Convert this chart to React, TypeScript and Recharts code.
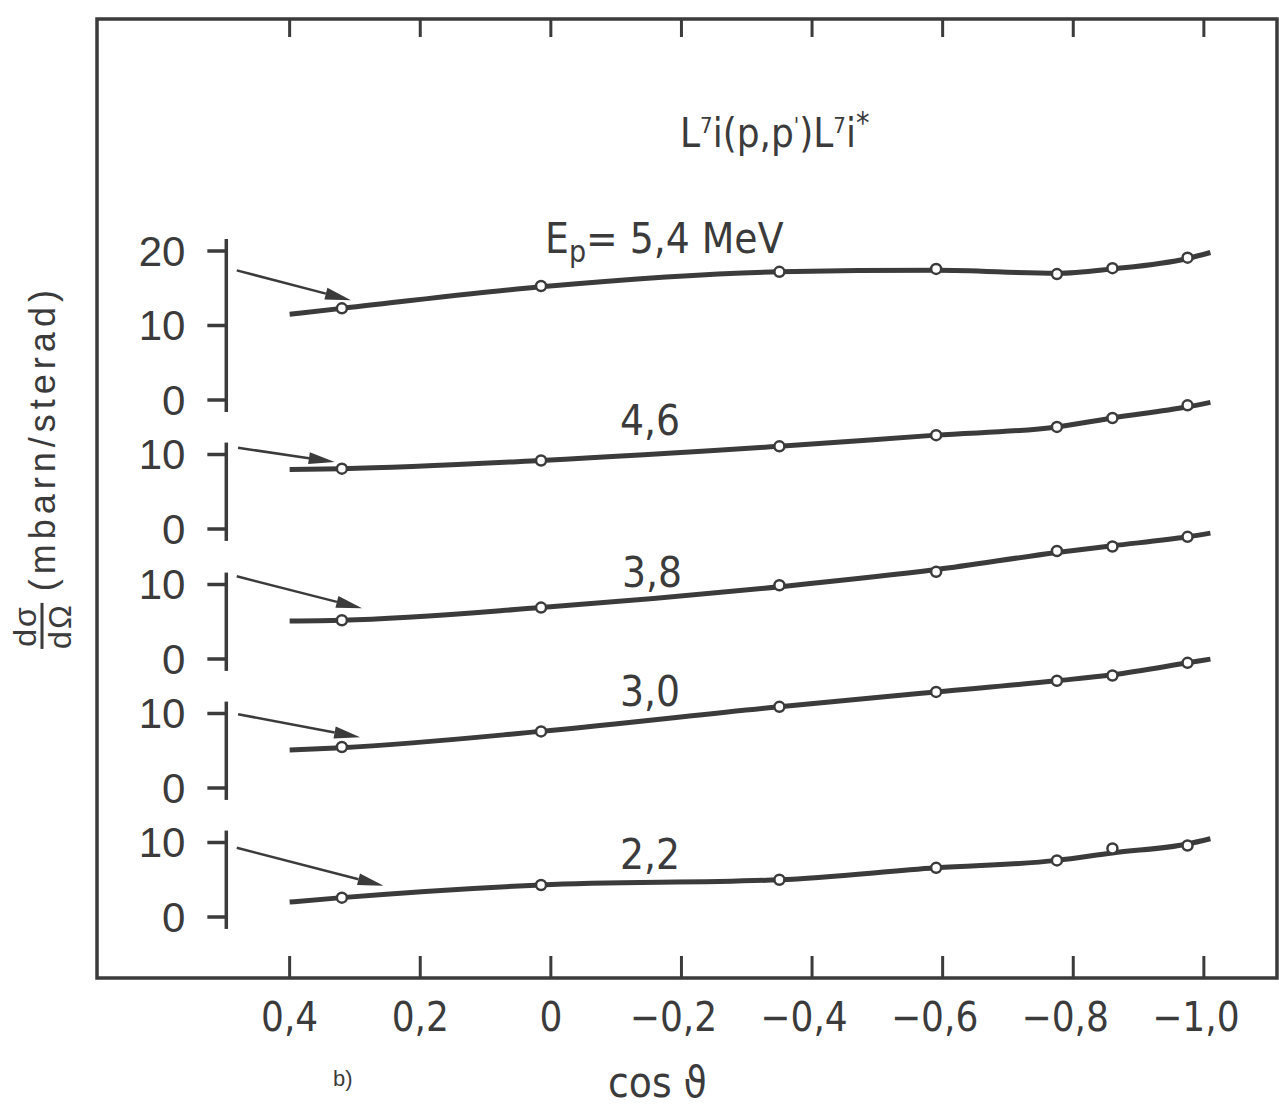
import {
  ComposedChart,
  Line,
  ReferenceArea,
  ReferenceLine,
  Scatter,
  XAxis,
  YAxis,
} from "recharts";

// cos(theta) positions
const X_TICKS = [0.4, 0.2, 0, -0.2, -0.4, -0.6, -0.8, -1.0];
const CURVE_COS = [0.4, 0.32, 0.015, -0.35, -0.59, -0.775, -0.86, -0.975, -1.01];
const POINT_COS = [0.32, 0.015, -0.35, -0.59, -0.775, -0.86, -0.975];

// beam energies (MeV), top to bottom
const ENERGIES = ["5,4", "4,6", "3,8", "3,0", "2,2"];

// dσ/dΩ (mbarn/sterad) measured points
const POINTS_54 = [12.3, 15.3, 17.2, 17.6, 16.9, 17.7, 19.1];
const POINTS_46 = [8.1, 9.2, 11.1, 12.6, 13.7, 14.9, 16.6];
const POINTS_38 = [5.2, 6.9, 9.9, 11.7, 14.5, 15.1, 16.4];
const POINTS_30 = [5.5, 7.6, 10.9, 12.9, 14.4, 15.1, 16.8];
const POINTS_22 = [2.6, 4.3, 5.0, 6.6, 7.6, 9.2, 9.6];

// drawn smooth curves
const CURVE_54 = [11.5, 12.3, 15.2, 17.2, 17.4, 17.0, 17.6, 19.0, 19.8];
const CURVE_46 = [8.0, 8.1, 9.2, 11.1, 12.6, 13.7, 14.9, 16.4, 17.0];
const CURVE_38 = [5.1, 5.2, 6.9, 9.7, 12.0, 14.3, 15.2, 16.4, 16.9];
const CURVE_30 = [5.1, 5.4, 7.6, 10.9, 12.9, 14.4, 15.2, 16.8, 17.3];
const CURVE_22 = [2.0, 2.6, 4.3, 5.0, 6.6, 7.6, 8.6, 9.8, 10.5];

const Y_TICKS = [[0, 10, 20], [0, 10], [0, 10], [0, 10], [0, 10]];

// arrows pointing from the scale to each curve: [cos, value]
const ARROW_FROM = [[0.481, 17.4], [0.479, 10.9], [0.481, 11.1], [0.479, 9.9], [0.481, 9.3]];
const ARROW_TO = [[0.306, 13.4], [0.331, 9.0], [0.289, 6.8], [0.292, 6.8], [0.256, 4.2]];

// layout
const W = 1279;
const H = 1107;
const PLOT_TOP = 19;
const PLOT_BOTTOM = 978;
const PANEL_ZERO = [400, 529, 659, 788, 917];
const PX_PER_UNIT = 7.45;
const X_DOMAIN = [-1.112, 0.695];
const AXIS_COS = 0.497;
const TICK_COS = 0.526;

const INK = "#3b3b3b";
const NARROW = "'DejaVu Sans Condensed', 'Liberation Sans Narrow', 'Liberation Sans', sans-serif";
const SANS = "'Liberation Sans', Arial, sans-serif";

const allPoints = [POINTS_54, POINTS_46, POINTS_38, POINTS_30, POINTS_22];
const allCurves = [CURVE_54, CURVE_46, CURVE_38, CURVE_30, CURVE_22];

const panels = ENERGIES.map((e, i) => ({
  id: `p${i}`,
  energy: e,
  domain: [
    -(PLOT_BOTTOM - PANEL_ZERO[i]) / PX_PER_UNIT,
    (PANEL_ZERO[i] - PLOT_TOP) / PX_PER_UNIT,
  ],
  curve: CURVE_COS.map((x, k) => ({ x, y: allCurves[i][k] })),
  points: POINT_COS.map((x, k) => ({ x, y: allPoints[i][k] })),
  ticks: Y_TICKS[i],
  from: ARROW_FROM[i],
  to: ARROW_TO[i],
}));

function fmt(v: number) {
  if (v === 0) return "0";
  const s = Math.abs(v).toFixed(1).replace(".", ",");
  return v < 0 ? "\u2212" + s : s;
}

function BottomTick({ x, y, payload }: any) {
  const v = payload.value;
  return (
    <g>
      <line x1={x} y1={y} x2={x} y2={y - 22} stroke={INK} strokeWidth={3} />
      <text
        x={v < 0 ? x - 8 : x}
        y={y + 53}
        textAnchor="middle"
        fontSize={40}
        fill={INK}
        fontFamily={NARROW}
      >
        {fmt(v)}
      </text>
    </g>
  );
}

function TopTick({ x, y }: any) {
  return <line x1={x} y1={y} x2={x} y2={y + 18} stroke={INK} strokeWidth={3} />;
}

function Arrow(props: any) {
  const { x1, y1, x2, y2 } = props;
  const a = Math.atan2(y2 - y1, x2 - x1);
  const len = 26;
  const half = 6;
  const bx = x2 - len * Math.cos(a);
  const by = y2 - len * Math.sin(a);
  const px = -Math.sin(a) * half;
  const py = Math.cos(a) * half;
  return (
    <g>
      <line x1={x1} y1={y1} x2={bx} y2={by} stroke={INK} strokeWidth={2.5} />
      <polygon points={`${x2},${y2} ${bx + px},${by + py} ${bx - px},${by - py}`} fill={INK} />
    </g>
  );
}

function Dot(props: any) {
  return <circle cx={props.cx} cy={props.cy} r={5} fill="#fff" stroke={INK} strokeWidth={2.5} />;
}

const abs = (style: React.CSSProperties): React.CSSProperties => ({
  position: "absolute",
  color: INK,
  whiteSpace: "nowrap",
  lineHeight: 1,
  ...style,
});

export default function App() {
  return (
    <div style={{ position: "absolute", left: 0, top: 0, width: W, height: H, background: "#fff" }}>
      <ComposedChart
        width={W}
        height={H}
        margin={{ top: 0, right: W - 1277, bottom: 0, left: 97 }}
      >
        <XAxis
          xAxisId="b"
          type="number"
          dataKey="x"
          domain={X_DOMAIN}
          allowDataOverflow
          reversed
          ticks={X_TICKS}
          interval={0}
          height={H - PLOT_BOTTOM}
          tickSize={0}
          tickMargin={0}
          tickLine={false}
          axisLine={false}
          tick={<BottomTick />}
        />
        <XAxis
          xAxisId="t"
          orientation="top"
          type="number"
          dataKey="x"
          domain={X_DOMAIN}
          allowDataOverflow
          reversed
          ticks={X_TICKS}
          interval={0}
          height={PLOT_TOP}
          tickSize={0}
          tickMargin={0}
          tickLine={false}
          axisLine={false}
          tick={<TopTick />}
        />
        {panels.map((p) => (
          <YAxis
            key={p.id}
            yAxisId={p.id}
            type="number"
            dataKey="y"
            domain={p.domain}
            allowDataOverflow
            hide
          />
        ))}

        <ReferenceArea
          xAxisId="b"
          yAxisId="p0"
          x1={X_DOMAIN[0]}
          x2={X_DOMAIN[1]}
          y1={panels[0].domain[0]}
          y2={panels[0].domain[1]}
          fill="none"
          fillOpacity={0}
          stroke={INK}
          strokeWidth={3.5}
        />

        {panels.map((p) => (
          <ReferenceLine
            key={`ax-${p.id}`}
            xAxisId="b"
            yAxisId={p.id}
            segment={[
              { x: AXIS_COS, y: -1.6 },
              { x: AXIS_COS, y: p.ticks[p.ticks.length - 1] + 1.6 },
            ]}
            stroke={INK}
            strokeWidth={3.5}
          />
        ))}
        {panels.flatMap((p) =>
          p.ticks.map((t) => (
            <ReferenceLine
              key={`tk-${p.id}-${t}`}
              xAxisId="b"
              yAxisId={p.id}
              segment={[
                { x: TICK_COS, y: t },
                { x: AXIS_COS, y: t },
              ]}
              stroke={INK}
              strokeWidth={3.5}
              label={{
                value: String(t),
                position: "left",
                offset: 22,
                fontSize: 42,
                fill: INK,
                fontFamily: SANS,
              }}
            />
          ))
        )}
        {panels.map((p) => (
          <ReferenceLine
            key={`ar-${p.id}`}
            xAxisId="b"
            yAxisId={p.id}
            segment={[
              { x: p.from[0], y: p.from[1] },
              { x: p.to[0], y: p.to[1] },
            ]}
            shape={(props: any) => <Arrow {...props} />}
          />
        ))}

        {panels.map((p) => (
          <Line
            key={`ln-${p.id}`}
            xAxisId="b"
            yAxisId={p.id}
            data={p.curve}
            dataKey="y"
            type="monotone"
            stroke={INK}
            strokeWidth={5}
            dot={false}
            activeDot={false}
            isAnimationActive={false}
          />
        ))}
        {panels.map((p) => (
          <Scatter
            key={`pt-${p.id}`}
            xAxisId="b"
            yAxisId={p.id}
            data={p.points}
            dataKey="y"
            shape={<Dot />}
            isAnimationActive={false}
          />
        ))}
      </ComposedChart>

      <div style={abs({ left: 680, top: 108, fontSize: 40, fontFamily: NARROW })}>
        L<sup style={{ fontSize: 22 }}>7</sup>i(p,p<sup style={{ fontSize: 22 }}>'</sup>)L
        <sup style={{ fontSize: 22 }}>7</sup>i<sup style={{ fontSize: 30 }}>*</sup>
      </div>
      <div style={abs({ left: 545, top: 218, fontSize: 42, fontFamily: NARROW })}>
        E<sub style={{ fontSize: 30 }}>p</sub>= {ENERGIES[0]} MeV
      </div>
      <div style={abs({ left: 620, top: 400, fontSize: 42, fontFamily: NARROW })}>{ENERGIES[1]}</div>
      <div style={abs({ left: 622, top: 552, fontSize: 42, fontFamily: NARROW })}>{ENERGIES[2]}</div>
      <div style={abs({ left: 620, top: 671, fontSize: 42, fontFamily: NARROW })}>{ENERGIES[3]}</div>
      <div style={abs({ left: 620, top: 834, fontSize: 42, fontFamily: NARROW })}>{ENERGIES[4]}</div>

      <div style={abs({ left: 333, top: 1068, fontSize: 22, fontFamily: SANS })}>b)</div>
      <div style={abs({ left: 608, top: 1062, fontSize: 42, fontFamily: NARROW })}>cos ϑ</div>

      <div
        style={abs({
          left: 42,
          top: 467,
          fontSize: 36,
          letterSpacing: 5,
          fontFamily: SANS,
          transform: "translate(-50%, -50%) rotate(-90deg)",
          display: "flex",
          alignItems: "center",
          gap: 12,
        })}
      >
        <span
          style={{
            display: "inline-flex",
            flexDirection: "column",
            alignItems: "center",
            fontSize: 32,
            letterSpacing: 2,
          }}
        >
          <span style={{ borderBottom: `3px solid ${INK}`, padding: "0 2px" }}>dσ</span>
          <span>dΩ</span>
        </span>
        <span>(mbarn/sterad)</span>
      </div>
    </div>
  );
}
